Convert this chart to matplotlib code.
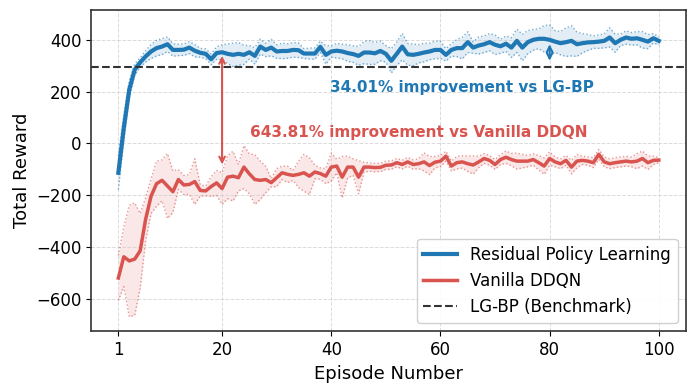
import matplotlib
matplotlib.use('Agg')
import matplotlib.pyplot as plt
import numpy as np

# Episode axis
episodes = np.arange(1, 101)

# Residual Policy Learning: mean reward and spread per episode
rpl_mean = [-113, 60, 208, 285, 313, 336, 355, 368, 374, 383,
            361, 361, 362, 370, 358, 350, 346, 325, 349, 352,
            346, 342, 346, 342, 352, 338, 374, 361, 370, 355,
            357, 357, 361, 360, 347, 347, 347, 373, 342, 355,
            358, 355, 349, 345, 338, 351, 351, 348, 357, 346,
            319, 346, 374, 344, 342, 346, 351, 355, 361, 361,
            342, 361, 368, 368, 391, 370, 378, 383, 391, 381,
            375, 385, 370, 396, 370, 391, 400, 404, 404, 400,
            393, 387, 391, 396, 383, 387, 390, 391, 393, 396,
            409, 387, 400, 409, 404, 406, 400, 393, 406, 396]
rpl_std = [64, 50, 35, 22, 18, 22, 27, 30, 31, 28,
           24, 22, 22, 23, 24, 17, 19, 21, 24, 29,
           38, 45, 44, 37, 26, 32, 29, 26, 32, 26,
           30, 28, 28, 28, 19, 21, 22, 22, 36, 22,
           28, 28, 32, 32, 36, 43, 46, 42, 38, 32,
           47, 45, 51, 42, 42, 35, 36, 32, 34, 33,
           24, 24, 33, 42, 40, 22, 33, 32, 33, 38,
           27, 30, 38, 45, 51, 45, 40, 38, 51, 58,
           42, 45, 55, 58, 47, 37, 31, 24, 26, 27,
           37, 35, 22, 26, 24, 26, 32, 27, 18, 16]

# Vanilla DDQN: mean reward and spread per episode
ddqn_mean = [-519, -437, -453, -446, -414, -292, -203, -155, -142, -164,
             -186, -139, -160, -158, -147, -181, -183, -166, -152, -174,
             -130, -126, -132, -91, -117, -139, -142, -139, -151, -132,
             -113, -119, -123, -119, -113, -126, -110, -116, -126, -91,
             -87, -130, -91, -91, -130, -91, -91, -93, -92, -84,
             -83, -74, -81, -71, -81, -78, -71, -85, -72, -68,
             -49, -87, -74, -71, -78, -83, -71, -58, -65, -81,
             -62, -53, -62, -68, -68, -68, -62, -74, -87, -58,
             -71, -78, -65, -91, -68, -65, -68, -74, -42, -71,
             -78, -74, -71, -68, -71, -68, -58, -74, -65, -64]
ddqn_std = [87, 115, 215, 217, 144, 83, 67, 87, 79, 125,
            80, 38, 37, 38, 88, 22, 19, 38, 48, 61,
            83, 96, 51, 83, 77, 96, 74, 51, 16, 35,
            26, 32, 19, 51, 71, 71, 26, 22, 29, 54,
            26, 80, 42, 32, 64, 19, 16, 16, 16, 16,
            16, 16, 17, 17, 18, 19, 35, 35, 22, 22,
            19, 19, 24, 24, 30, 35, 22, 19, 19, 19,
            19, 24, 24, 31, 26, 22, 22, 28, 32, 26,
            19, 19, 19, 26, 26, 16, 16, 19, 19, 19,
            19, 19, 19, 19, 19, 29, 29, 26, 16, 10]

benchmark = 296

blue = '#1f77b4'
red = '#d9534f'

fig, ax = plt.subplots(figsize=(6.97, 3.92), dpi=100)
fig.subplots_adjust(left=0.131, right=0.984, top=0.974, bottom=0.155)

for mean, std, color, lw, label in [(rpl_mean, rpl_std, blue, 3.0, 'Residual Policy Learning'),
                                     (ddqn_mean, ddqn_std, red, 2.5, 'Vanilla DDQN')]:
    mean = np.array(mean)
    std = np.array(std)
    ax.fill_between(episodes, mean - std, mean + std, color=color, alpha=0.13, lw=0)
    ax.plot(episodes, mean + std, ':', color=color, lw=1, alpha=0.6)
    ax.plot(episodes, mean - std, ':', color=color, lw=1, alpha=0.6)
    ax.plot(episodes, mean, color=color, lw=lw, label=label)

ax.axhline(benchmark, color='#333333', ls='--', lw=1.5, label='LG-BP (Benchmark)')

# Improvement arrows and labels
ax.annotate('', xy=(80, 383), xytext=(80, 319),
            arrowprops=dict(arrowstyle='<->', color=blue, lw=1.5, shrinkA=0, shrinkB=0))
ax.text(64, 215, '34.01% improvement vs LG-BP', color=blue, fontsize=11,
        fontweight='bold', ha='center', va='center')
ax.annotate('', xy=(20, 338), xytext=(20, -81),
            arrowprops=dict(arrowstyle='<->', color=red, lw=1.5, shrinkA=0, shrinkB=0))
ax.text(56, 43, '643.81% improvement vs Vanilla DDQN', color=red, fontsize=11,
        fontweight='bold', ha='center', va='center')

ax.set_xticks([1, 20, 40, 60, 80, 100])
ax.set_yticks([-600, -400, -200, 0, 200, 400])
ax.tick_params(labelsize=12)
ax.set_xlabel('Episode Number', fontsize=13)
ax.set_ylabel('Total Reward', fontsize=13)
ax.grid(True, ls='--', color='#cccccc', alpha=0.7, lw=0.7)
for s in ax.spines.values():
    s.set_color('#333333')
    s.set_linewidth(1.2)

ax.legend(loc='lower right', fontsize=12, framealpha=0.9)

plt.savefig('out.png', dpi=100)
